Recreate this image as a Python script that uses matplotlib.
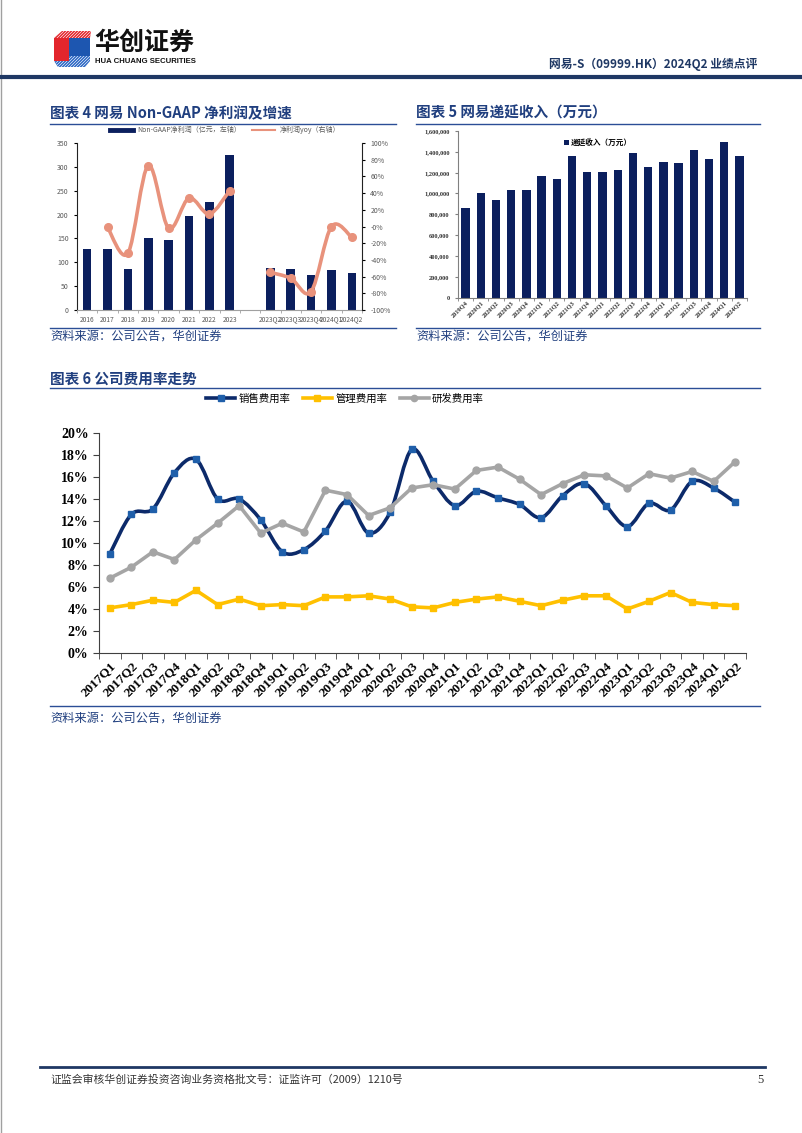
import numpy as np
import matplotlib
matplotlib.use('Agg')
import matplotlib.pyplot as plt
from matplotlib.path import Path
from matplotlib.patches import PathPatch, Polygon, Rectangle, Patch
from matplotlib.lines import Line2D
import matplotlib.ticker as mticker

CJK = ['Noto Sans CJK SC', 'DejaVu Sans']
SERIF = ['Liberation Serif', 'Noto Sans CJK SC']
plt.rcParams['font.family'] = CJK
plt.rcParams['axes.unicode_minus'] = False

# ---------------- data ----------------
np_cats = ['2016', '2017', '2018', '2019', '2020', '2021', '2022', '2023', '',
           '2023Q2', '2023Q3', '2023Q4', '2024Q1', '2024Q2']
np_profit = [128, 127, 86, 150, 147, 197, 227, 325, None, 89, 86, 74, 84, 78]
np_yoy = [None, -1, -32, 73, -2, 34, 15, 43, None, -55, -62, -78, 0, -13]

def_cats = ['2019Q4', '2020Q1', '2020Q2', '2020Q3', '2020Q4', '2021Q1', '2021Q2',
            '2021Q3', '2021Q4', '2022Q1', '2022Q2', '2022Q3', '2022Q4', '2023Q1',
            '2023Q2', '2023Q3', '2023Q4', '2024Q1', '2024Q2']
def_vals = [860000, 1000000, 935000, 1035000, 1035000, 1170000, 1135000, 1355000,
            1210000, 1205000, 1230000, 1390000, 1250000, 1300000, 1295000, 1415000,
            1335000, 1490000, 1360000]

q_cats = ['2017Q1', '2017Q2', '2017Q3', '2017Q4', '2018Q1', '2018Q2', '2018Q3', '2018Q4',
          '2019Q1', '2019Q2', '2019Q3', '2019Q4', '2020Q1', '2020Q2', '2020Q3', '2020Q4',
          '2021Q1', '2021Q2', '2021Q3', '2021Q4', '2022Q1', '2022Q2', '2022Q3', '2022Q4',
          '2023Q1', '2023Q2', '2023Q3', '2023Q4', '2024Q1', '2024Q2']
sales = [9.0, 12.6, 13.1, 16.4, 17.6, 14.0, 14.0, 12.1, 9.2, 9.4, 11.1, 13.8, 10.9, 12.8,
         18.5, 15.6, 13.4, 14.7, 14.1, 13.5, 12.3, 14.3, 15.4, 13.4, 11.5, 13.6, 13.0,
         15.6, 15.0, 13.7]
admin = [4.1, 4.4, 4.8, 4.6, 5.7, 4.4, 4.9, 4.3, 4.4, 4.3, 5.1, 5.1, 5.2, 4.9, 4.2, 4.1,
         4.6, 4.9, 5.1, 4.7, 4.3, 4.8, 5.2, 5.2, 4.0, 4.7, 5.5, 4.6, 4.4, 4.3]
rd = [6.8, 7.8, 9.2, 8.5, 10.3, 11.8, 13.4, 10.9, 11.8, 11.0, 14.8, 14.4, 12.5, 13.2,
      15.0, 15.3, 14.9, 16.6, 16.9, 15.8, 14.4, 15.4, 16.2, 16.1, 15.0, 16.3, 15.9,
      16.5, 15.6, 17.4]

# ---------------- helpers ----------------
W, H = 802, 1133
fig = plt.figure(figsize=(W / 100, H / 100), dpi=100)
fig.patch.set_facecolor('white')


def fx(x):
    return x / W


def fy(y):
    return 1 - y / H


def add_ax(l, t, r, b):
    return fig.add_axes([fx(l), fy(b), (r - l) / W, (b - t) / H])


def hline(x0, x1, y, color, lw):
    fig.add_artist(Line2D([fx(x0), fx(x1)], [fy(y), fy(y)], color=color, lw=lw,
                          transform=fig.transFigure))


def text(x, y, s, **kw):
    fig.text(fx(x), fy(y), s, **kw)


def poly(pts, color):
    p = Polygon([(fx(a), fy(b)) for a, b in pts], closed=True, facecolor=color,
                edgecolor='none', transform=fig.transFigure)
    fig.add_artist(p)
    return p


def stripes(clip, x0, x1, y0, y1, step, color, lw):
    for yy in np.arange(y0, y1, step):
        ln = Line2D([fx(x0), fx(x1)], [fy(yy), fy(yy - (x1 - x0))], color=color, lw=lw,
                    transform=fig.transFigure)
        ln.set_clip_path(clip)
        fig.add_artist(ln)


def smooth_path(xs, ys):
    verts = [(xs[0], ys[0])]
    codes = [Path.MOVETO]
    n = len(xs)
    for i in range(n - 1):
        p0 = (xs[i - 1], ys[i - 1]) if i > 0 else (xs[i], ys[i])
        p1 = (xs[i], ys[i])
        p2 = (xs[i + 1], ys[i + 1])
        p3 = (xs[i + 2], ys[i + 2]) if i + 2 < n else p2
        c1 = (p1[0] + (p2[0] - p0[0]) / 6, p1[1] + (p2[1] - p0[1]) / 6)
        c2 = (p2[0] - (p3[0] - p1[0]) / 6, p2[1] - (p3[1] - p1[1]) / 6)
        verts += [c1, c2, p2]
        codes += [Path.CURVE4] * 3
    return Path(verts, codes)


TITLE_C = '#203F7F'
LINE_C = '#2B4E96'
NAVY = '#0B1F5E'

# ---------------- header ----------------
fig.add_artist(Line2D([fx(0.5), fx(0.5)], [0, 1], color='#A0A0A0', lw=1,
                      transform=fig.transFigure))
top = poly([(54, 38), (62, 31), (91, 31), (90, 38)], '#E3262C')
stripes(top, 50, 95, 30, 80, 3.0, 'white', 0.45)
poly([(54, 38), (69, 38), (69, 61), (54, 61)], '#E3262C')
poly([(69, 38), (90, 38), (90, 56), (69, 56)], '#1D56B0')
bot = poly([(54, 61), (69, 61), (69, 56), (90, 56), (90, 61), (85, 67), (58, 67)], '#2A66C4')
stripes(bot, 50, 95, 57, 110, 3.0, 'white', 0.45)
text(94, 43, '华创证券', fontsize=18, fontweight='bold', va='center', ha='left', color='#111111')
text(95, 61.5, 'HUA CHUANG SECURITIES', fontsize=5.6, fontweight='bold', va='center',
     ha='left', family=['Liberation Sans'], color='#111111')
text(757, 64, '网易-S（09999.HK）2024Q2 业绩点评', ha='right', va='center', fontsize=8.5,
     fontweight='bold', color='#1F3864')
hline(2, 800, 77, '#1F3864', 3)

# ---------------- chart 4 ----------------
text(50, 113, '图表 4 网易 Non-GAAP 净利润及增速', fontsize=10.5, fontweight='bold',
     color=TITLE_C, va='center')
hline(50, 396, 124, LINE_C, 1)
ax = add_ax(77, 143, 362, 310)
x = np.arange(len(np_cats))
prof = np.array([np.nan if v is None else v for v in np_profit], float)
ax.bar(x, prof, width=0.42, color=NAVY, zorder=2)
ax.set_xlim(-0.5, len(x) - 0.5)
ax.set_ylim(0, 350)
ax.set_yticks(range(0, 351, 50))
ax.set_xticks(x)
ax.set_xticklabels(np_cats, fontsize=4.8, color='#595959')
ax.set_xticks(np.arange(-0.5, len(x), 1), minor=True)
ax.tick_params(axis='x', which='major', length=0, pad=4)
ax.tick_params(axis='x', which='minor', length=2, color='#A0A0A0')
ax.tick_params(axis='y', labelsize=5, labelcolor='#595959', length=2.5, width=0.8)
for s in ['top', 'right']:
    ax.spines[s].set_visible(False)
ax.spines['left'].set_color('#222222')
ax.spines['left'].set_linewidth(0.8)
ax.spines['bottom'].set_color('#A0A0A0')
ax2 = ax.twinx()
yoy = np.array([np.nan if v is None else v / 100 for v in np_yoy], float)
SALMON = '#E8927C'
for seg in [(1, 8), (9, 14)]:
    xs = x[seg[0]:seg[1]]
    ys = yoy[seg[0]:seg[1]]
    ax2.add_patch(PathPatch(smooth_path(xs, ys), fill=False, edgecolor=SALMON, lw=2.6,
                            capstyle='round', joinstyle='round', zorder=3))
ax2.plot(x, yoy, ls='none', marker='o', ms=5.5, color=SALMON, zorder=4)
ax2.set_ylim(-1, 1)
ax2.set_yticks(np.arange(-1, 1.01, 0.2))
ax2.yaxis.set_major_formatter(mticker.FuncFormatter(lambda v, p: f'{v * 100:.0f}%'))
ax2.tick_params(axis='y', labelsize=5, labelcolor='#595959', length=2.5, width=0.8)
for s in ['top', 'left', 'bottom']:
    ax2.spines[s].set_visible(False)
ax2.spines['right'].set_color('#222222')
ax2.spines['right'].set_linewidth(0.8)
h1 = Line2D([], [], color=NAVY, lw=3.5)
h2 = Line2D([], [], color=SALMON, lw=1.5)
leg = fig.legend([h1, h2], ['Non-GAAP净利润（亿元，左轴）', '净利润yoy（右轴）'],
                 loc='center', bbox_to_anchor=(fx(225), fy(130)), ncol=2, frameon=False,
                 fontsize=5, handlelength=3.3, columnspacing=1.6, handletextpad=0.6)
for t in leg.get_texts():
    t.set_color('#595959')
hline(50, 396, 328, LINE_C, 1)
text(50, 336, '资料来源：公司公告，华创证券', fontsize=8.8, color=TITLE_C, style='italic',
     va='center')

# ---------------- chart 5 ----------------
text(416, 113, '图表 5 网易递延收入（万元）', fontsize=10.5, fontweight='bold',
     color=TITLE_C, va='center')
hline(416, 760, 124, LINE_C, 1)
ax = add_ax(458, 131, 747, 297.5)
x = np.arange(len(def_cats))
ax.bar(x, def_vals, width=0.55, color=NAVY, zorder=2)
ax.set_xlim(-0.5, len(x) - 0.5)
ax.set_ylim(0, 1600000)
ax.set_yticks(np.arange(0, 1600001, 200000))
ax.yaxis.set_major_formatter(mticker.FuncFormatter(lambda v, p: f'{v:,.0f}'))
ax.set_xticks(x)
ax.set_xticklabels(def_cats, rotation=45, ha='right', rotation_mode='anchor')
ax.set_xticks(np.arange(-0.5, len(x), 1), minor=True)
ax.tick_params(axis='x', which='major', length=0, pad=2)
ax.tick_params(axis='x', which='minor', length=2, color='#808080')
ax.tick_params(axis='y', length=2.5, color='#808080')
for lab in ax.get_xticklabels() + ax.get_yticklabels():
    lab.set_fontfamily(SERIF)
    lab.set_fontweight('bold')
    lab.set_fontsize(4.6)
    lab.set_color('#333333')
for s in ['top', 'right']:
    ax.spines[s].set_visible(False)
ax.spines['left'].set_color('#808080')
ax.spines['bottom'].set_color('#808080')
ax.legend([Patch(facecolor=NAVY)], ['递延收入（万元）'], loc='upper center',
          bbox_to_anchor=(0.485, 1.0), frameon=False, handlelength=0.6, handleheight=0.6,
          handletextpad=0.3, prop={'size': 5.5, 'weight': 'bold'})
hline(416, 760, 328, LINE_C, 1)
text(416, 336, '资料来源：公司公告，华创证券', fontsize=8.8, color=TITLE_C, style='italic',
     va='center')

# ---------------- chart 6 ----------------
text(50, 379, '图表 6 公司费用率走势', fontsize=10.5, fontweight='bold', color=TITLE_C,
     va='center')
hline(50, 760, 388, LINE_C, 1)
ax = add_ax(99, 433, 746, 653)
x = np.arange(len(q_cats))
S_LINE = '#0C2A6A'
S_MARK = '#1F5FAA'
YEL = '#FFC000'
GRY = '#A5A5A5'
ax.add_patch(PathPatch(smooth_path(x, sales), fill=False, edgecolor=S_LINE, lw=2.6,
                       capstyle='round', joinstyle='round', zorder=3))
ax.plot(x, sales, ls='none', marker='s', ms=5, color=S_MARK, zorder=4)
ax.plot(x, admin, color=YEL, lw=2.6, marker='s', ms=5, zorder=3)
ax.plot(x, rd, color=GRY, lw=2.6, marker='o', ms=5, zorder=5)
ax.set_xlim(-0.5, len(x) - 0.5)
ax.set_ylim(0, 20)
ax.set_yticks(np.arange(0, 20.1, 2))
ax.yaxis.set_major_formatter(mticker.FuncFormatter(lambda v, p: f'{v:.0f}%'))
ax.set_xticks(x)
ax.set_xticklabels(q_cats, rotation=45, ha='right', rotation_mode='anchor')
ax.set_xticks(np.arange(-0.5, len(x), 1), minor=True)
ax.tick_params(axis='x', which='major', length=0, pad=5)
ax.tick_params(axis='x', which='minor', length=4, color='#404040')
ax.tick_params(axis='y', length=4, color='#404040')
for lab in ax.get_xticklabels():
    lab.set_fontfamily(SERIF)
    lab.set_fontweight('bold')
    lab.set_fontsize(9.5)
for lab in ax.get_yticklabels():
    lab.set_fontfamily(SERIF)
    lab.set_fontweight('bold')
    lab.set_fontsize(10)
for s in ['top', 'right']:
    ax.spines[s].set_visible(False)
ax.spines['left'].set_color('#404040')
ax.spines['bottom'].set_color('#404040')
hs = [Line2D([], [], color=S_LINE, lw=2.6, marker='s', ms=4.5, mfc=S_MARK, mec=S_MARK),
      Line2D([], [], color=YEL, lw=2.6, marker='s', ms=4.5),
      Line2D([], [], color=GRY, lw=2.6, marker='o', ms=4.5)]
fig.legend(hs, ['销售费用率', '管理费用率', '研发费用率'], loc='center',
           bbox_to_anchor=(fx(345), fy(399)), ncol=3, frameon=False, fontsize=7.5,
           handlelength=2.8, columnspacing=1.2, handletextpad=0.3)
hline(50, 760, 706, LINE_C, 1)
text(50, 718, '资料来源：公司公告，华创证券', fontsize=8.8, color=TITLE_C, style='italic',
     va='center')

# ---------------- footer ----------------
hline(40, 765, 1067, '#1F3864', 2)
text(50, 1080, '证监会审核华创证券投资咨询业务资格批文号：证监许可（2009）1210号',
     fontsize=7.8, color='#333333', va='center')
text(757, 1080, '5', fontsize=9, color='#333333', va='center', family=SERIF)

fig.savefig('out.png', dpi=100)
